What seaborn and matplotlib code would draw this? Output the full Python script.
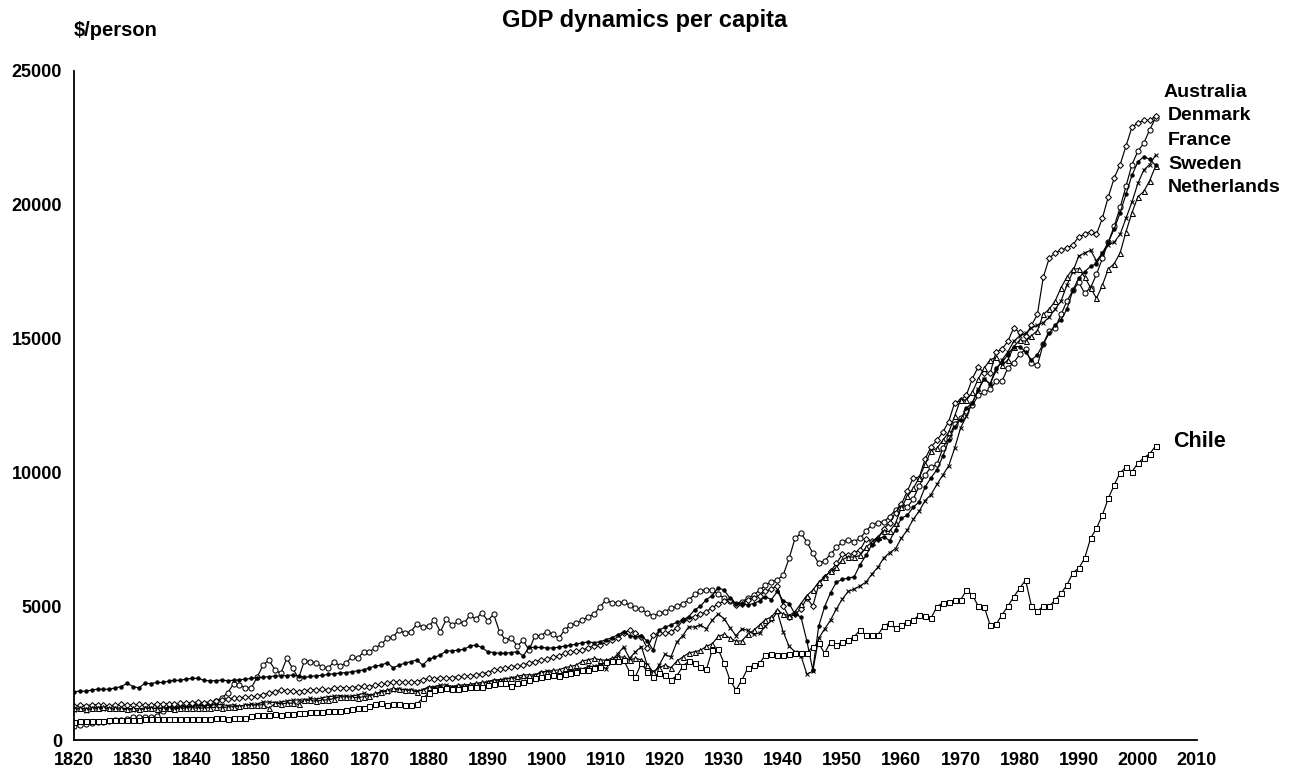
import numpy as np
import pandas as pd
import seaborn as sns
import matplotlib
matplotlib.use("Agg")
import matplotlib.pyplot as plt

### Data (GDP per capita, $/person), annual 1820-2003 ###

years = list(range(1820, 2004))

australia = [
    530, 560, 600, 640, 670, 690, 710, 730, 760, 800,
    850, 860, 860, 870, 900, 1100, 1180, 1220, 1260, 1300,
    1330, 1320, 1340, 1380, 1450, 1580, 1760, 2100, 2060, 1950,
    1950, 2350, 2800, 2990, 2620, 2490, 3050, 2680, 2310, 2960,
    2930, 2870, 2740, 2680, 2930, 2770, 2870, 3110, 3050, 3300,
    3300, 3450, 3580, 3800, 3860, 4110, 3990, 4050, 4330, 4230,
    4260, 4480, 4050, 4510, 4300, 4430, 4360, 4670, 4510, 4760,
    4460, 4700, 4050, 3740, 3800, 3520, 3720, 3360, 3900, 3900,
    4050, 3950, 3800, 4100, 4300, 4360, 4480, 4600, 4700, 4980,
    5230, 5130, 5130, 5150, 5050, 4920, 4880, 4750, 4630, 4730,
    4800, 4920, 5000, 5100, 5230, 5440, 5580, 5620, 5600, 5450,
    5300, 5200, 5100, 5170, 5300, 5420, 5600, 5790, 5920, 5980,
    6170, 6790, 7540, 7720, 7410, 6980, 6600, 6700, 6940, 7200,
    7400, 7480, 7410, 7540, 7800, 8050, 8120, 8150, 8350, 8600,
    8790, 8700, 9000, 9500, 9900, 10200, 10300, 10900, 11300, 11800,
    12020, 12300, 12500, 12880, 13000, 13100, 13400, 13400, 13900, 14100,
    14410, 14600, 14100, 14000, 14800, 15300, 15400, 15900, 16400, 16800,
    17100, 16700, 16900, 17400, 18000, 18600, 19200, 19900, 20700, 21500,
    22000, 22300, 22800, 23250,
]

denmark = [
    1270, 1300, 1290, 1310, 1320, 1300, 1280, 1310, 1330, 1300,
    1320, 1330, 1310, 1300, 1350, 1340, 1360, 1330, 1370, 1380,
    1400, 1420, 1390, 1430, 1450, 1500, 1550, 1560, 1580, 1600,
    1600, 1650, 1700, 1760, 1800, 1870, 1850, 1820, 1810, 1850,
    1870, 1880, 1900, 1880, 1930, 1950, 1960, 1940, 2000, 2010,
    2000, 2060, 2080, 2120, 2180, 2170, 2150, 2150, 2180, 2250,
    2310, 2290, 2320, 2310, 2330, 2370, 2380, 2400, 2430, 2480,
    2520, 2620, 2640, 2680, 2740, 2770, 2800, 2880, 2930, 2990,
    3020, 3090, 3150, 3240, 3290, 3330, 3360, 3450, 3520, 3550,
    3650, 3740, 3820, 3990, 4110, 3990, 3860, 3430, 3920, 3990,
    3990, 4050, 4170, 4480, 4540, 4610, 4700, 4800, 4950, 5080,
    5200, 5250, 5050, 5100, 5250, 5300, 5400, 5550, 5650, 5760,
    5000, 4600, 4700, 4900, 5300, 5000, 5800, 6100, 6300, 6600,
    6940, 6900, 7000, 7100, 7500, 7450, 7500, 7900, 8100, 8500,
    8810, 9300, 9800, 9800, 10500, 10950, 11200, 11500, 11900, 12600,
    12690, 12900, 13500, 13950, 13700, 13700, 14500, 14600, 14900, 15400,
    15230, 15100, 15500, 15900, 17300, 18000, 18200, 18300, 18400, 18500,
    18800, 18900, 19000, 18900, 19500, 20300, 21000, 21500, 22200, 22900,
    23050, 23150, 23150, 23330,
]

france = [
    1130, 1170, 1100, 1150, 1180, 1170, 1160, 1150, 1160, 1140,
    1120, 1110, 1180, 1190, 1180, 1210, 1200, 1210, 1240, 1250,
    1250, 1290, 1280, 1300, 1330, 1320, 1290, 1320, 1250, 1300,
    1340, 1340, 1420, 1420, 1400, 1420, 1460, 1490, 1500, 1480,
    1560, 1520, 1580, 1620, 1640, 1660, 1640, 1640, 1680, 1750,
    1680, 1680, 1830, 1800, 1860, 1920, 1870, 1880, 1850, 1860,
    1960, 2000, 2050, 2060, 2000, 2000, 2010, 2030, 2070, 2100,
    2180, 2210, 2220, 2270, 2320, 2300, 2350, 2330, 2440, 2500,
    2580, 2520, 2500, 2540, 2600, 2610, 2650, 2750, 2750, 2820,
    2660, 2980, 3220, 3480, 3050, 3300, 3490, 2800, 2450, 2800,
    3200, 3100, 3660, 3900, 4230, 4220, 4300, 4160, 4480, 4710,
    4530, 4200, 3900, 4150, 4100, 3950, 4000, 4250, 4470, 4790,
    4040, 3500, 3300, 3150, 2460, 2570, 3800, 4150, 4480, 4900,
    5270, 5550, 5640, 5760, 5900, 6200, 6450, 6800, 7000, 7150,
    7550, 7850, 8250, 8550, 8950, 9170, 9550, 9900, 10250, 10900,
    11660, 12100, 12600, 13110, 13500, 13300, 13800, 14200, 14500, 14900,
    15100, 15200, 15400, 15500, 15600, 15800, 16100, 16400, 17000, 17500,
    18090, 18200, 18300, 17900, 18200, 18500, 18600, 18900, 19500, 20100,
    20800, 21300, 21500, 21860,
]

sweden = [
    1200, 1180, 1170, 1200, 1210, 1220, 1180, 1200, 1190, 1170,
    1180, 1170, 1190, 1200, 1170, 1180, 1190, 1170, 1180, 1200,
    1210, 1190, 1200, 1210, 1220, 1200, 1240, 1250, 1270, 1310,
    1300, 1310, 1320, 1180, 1370, 1360, 1370, 1380, 1330, 1490,
    1480, 1450, 1490, 1500, 1550, 1620, 1610, 1600, 1580, 1620,
    1660, 1740, 1800, 1870, 1930, 1900, 1870, 1860, 1800, 1880,
    1990, 1960, 2000, 1930, 1990, 2060, 2050, 2080, 2120, 2150,
    2180, 2240, 2260, 2290, 2310, 2380, 2430, 2440, 2430, 2550,
    2560, 2600, 2620, 2700, 2750, 2800, 2950, 3000, 3050, 3000,
    2980, 3050, 3100, 3100, 3000, 3050, 3000, 2800, 2550, 2700,
    2800, 2700, 2950, 3100, 3250, 3300, 3350, 3500, 3600, 3870,
    3950, 3800, 3700, 3700, 3950, 4100, 4300, 4500, 4600, 4860,
    4700, 4650, 4800, 5100, 5400, 5600, 5900, 6100, 6300, 6450,
    6740, 6850, 6830, 6900, 7200, 7400, 7600, 7800, 7800, 8100,
    8690, 9100, 9400, 9800, 10300, 10800, 10900, 11200, 11500, 12100,
    12720, 12700, 13000, 13490, 13900, 14200, 14300, 14000, 14200, 14700,
    14940, 14900, 15100, 15300, 15900, 16100, 16400, 16900, 17300, 17600,
    17610, 17300, 16900, 16500, 17000, 17600, 17800, 18200, 19000, 19700,
    20300, 20500, 20900, 21450,
]

netherlands = [
    1800, 1830, 1820, 1870, 1900, 1890, 1900, 1950, 2000, 2120,
    2000, 1950, 2120, 2110, 2150, 2150, 2200, 2230, 2230, 2280,
    2300, 2310, 2230, 2210, 2220, 2240, 2220, 2230, 2250, 2280,
    2300, 2330, 2350, 2370, 2390, 2400, 2410, 2430, 2380, 2340,
    2380, 2400, 2420, 2450, 2480, 2500, 2520, 2550, 2590, 2620,
    2700, 2760, 2800, 2890, 2700, 2800, 2870, 2930, 2990, 2800,
    3010, 3090, 3180, 3330, 3330, 3360, 3390, 3510, 3550, 3460,
    3300, 3270, 3240, 3240, 3270, 3300, 3140, 3460, 3460, 3460,
    3440, 3440, 3470, 3510, 3540, 3580, 3640, 3660, 3640, 3670,
    3750, 3820, 3930, 4050, 3900, 3850, 3880, 3700, 3360, 4110,
    4220, 4300, 4400, 4480, 4610, 4860, 5000, 5250, 5400, 5690,
    5600, 5300, 5100, 5100, 5050, 5100, 5200, 5350, 5250, 5550,
    5200, 5100, 4700, 4600, 3700, 2620, 4250, 4980, 5500, 5900,
    6000, 6050, 6100, 6550, 6900, 7300, 7500, 7600, 7450, 7850,
    8290, 8400, 8700, 8900, 9450, 9800, 10100, 10600, 11200, 11700,
    11970, 12400, 12600, 13080, 13500, 13300, 13900, 14100, 14400, 14700,
    14700, 14500, 14200, 14400, 14800, 15200, 15500, 15700, 16100, 16800,
    17260, 17500, 17700, 17800, 18200, 18600, 19100, 19700, 20400, 21100,
    21600, 21800, 21700, 21480,
]

chile = [
    690, 700, 700, 710, 720, 720, 730, 740, 740, 750,
    760, 760, 770, 770, 780, 780, 790, 790, 800, 800,
    790, 800, 800, 800, 810, 810, 800, 810, 820, 830,
    900, 930, 930, 940, 960, 950, 980, 990, 1000, 1010,
    1030, 1040, 1060, 1080, 1090, 1100, 1120, 1150, 1180, 1200,
    1290, 1330, 1370, 1310, 1330, 1340, 1310, 1320, 1340, 1560,
    1740, 1870, 1900, 1930, 1910, 1900, 1950, 1990, 1990, 2000,
    2060, 2080, 2120, 2120, 2020, 2120, 2180, 2240, 2310, 2370,
    2400, 2420, 2380, 2450, 2500, 2550, 2600, 2620, 2700, 2740,
    2930, 2960, 2950, 2990, 2550, 2370, 2860, 2550, 2370, 2490,
    2420, 2250, 2400, 2750, 2950, 2870, 2740, 2640, 3360, 3390,
    2870, 2240, 1870, 2240, 2680, 2800, 2870, 3180, 3200, 3180,
    3180, 3220, 3240, 3240, 3240, 3490, 3610, 3240, 3670, 3550,
    3670, 3740, 3860, 4110, 3920, 3920, 3920, 4260, 4380, 4170,
    4290, 4420, 4480, 4670, 4640, 4550, 4980, 5130, 5170, 5230,
    5230, 5600, 5420, 5000, 4980, 4300, 4320, 4670, 5000, 5350,
    5670, 5980, 5000, 4820, 5000, 5000, 5230, 5480, 5790, 6250,
    6420, 6790, 7540, 7910, 8410, 9030, 9530, 9990, 10190, 10030,
    10340, 10550, 10690, 10990,
]

countries = ["Australia", "Denmark", "France", "Sweden", "Netherlands", "Chile"]
series = [australia, denmark, france, sweden, netherlands, chile]
end_labels = ["Australia", "Denmark", "France", "Sweden", "Netherlands"]

x_ticks = list(range(1820, 2011, 10))
y_ticks = list(range(0, 25001, 5000))

### Styles ###

markers = {
    "Australia": ("o", "white", 3.7),
    "Denmark": ("D", "white", 3.0),
    "France": ("x", "black", 3.2),
    "Sweden": ("^", "white", 3.6),
    "Netherlands": ("o", "black", 2.4),
    "Chile": ("s", "white", 3.6),
}

df = pd.concat(
    [pd.DataFrame({"year": years, "gdp": vals, "country": name})
     for name, vals in zip(countries, series)],
    ignore_index=True,
)

sns.set_style("white")
plt.rcParams["font.family"] = ["Liberation Sans", "DejaVu Sans"]
plt.rcParams["font.weight"] = "bold"
plt.rcParams["text.color"] = "black"
plt.rcParams["xtick.color"] = "black"
plt.rcParams["ytick.color"] = "black"

fig = plt.figure(figsize=(12.95, 7.78), dpi=100)
ax = fig.add_axes([0.0571, 0.0488, 0.8672, 0.86])

for name in countries:
    m, fc, ms = markers[name]
    sns.lineplot(data=df[df["country"] == name], x="year", y="gdp", ax=ax,
                 color="black", linewidth=0.85, marker=m, markersize=ms,
                 markerfacecolor=fc, markeredgecolor="black",
                 markeredgewidth=0.75, legend=False)

ax.set_xlim(1820, 2010)
ax.set_ylim(0, 25000)
ax.set_xticks(x_ticks)
ax.set_yticks(y_ticks)
ax.set_xlabel("")
ax.set_ylabel("")
ax.tick_params(axis="both", direction="out", length=5, width=1.1,
               labelsize=13, color="black", labelcolor="black")
for lab in ax.get_xticklabels() + ax.get_yticklabels():
    lab.set_fontweight("bold")
sns.despine(ax=ax)
for side in ["left", "bottom"]:
    ax.spines[side].set_linewidth(1.3)
    ax.spines[side].set_color("black")

# end-of-line country labels
label_vals = [24180, 23320, 22420, 21520, 20630]
label_x = [2004.3, 2005.1, 2005.1, 2005.1, 2005.1]
for name, xv, yv in zip(end_labels, label_x, label_vals):
    ax.text(xv, yv, name, fontsize=14, fontweight="bold", color="black",
            ha="left", va="center", clip_on=False)
ax.text(2006.0, 11170, "Chile", fontsize=15.5, fontweight="bold",
        color="black", ha="left", va="center", clip_on=False)

fig.text(0.498, 0.974, "GDP dynamics per capita", fontsize=17,
         fontweight="bold", ha="center", va="center", color="black")
fig.text(0.089, 0.961, "$/person", fontsize=14.5, fontweight="bold",
         ha="center", va="center", color="black")

fig.savefig("out.png", dpi=100)
